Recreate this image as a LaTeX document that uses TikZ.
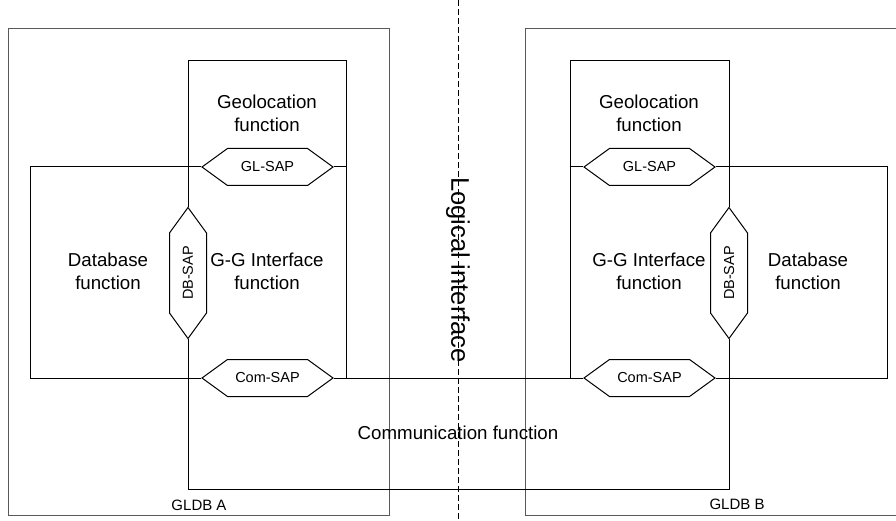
\documentclass[tikz,border=0pt]{standalone}
\usepackage{fontspec}
\setmainfont{Liberation Sans}
\usetikzlibrary{shapes.symbols}
\begin{document}
\begin{tikzpicture}[
    x=1pt, y=-1pt,
    every path/.style={line width=1pt},
    every node/.style={font=\fontsize{18.7}{23}\selectfont, align=center},
    sap/.style={draw, signal, signal to=east and west, signal pointer angle=72,
                minimum width=131pt, minimum height=37pt, inner sep=0pt,
                font=\fontsize{14.5}{16}\selectfont},
    frame/.style={draw=black!65},
    small/.style={font=\fontsize{15}{17}\selectfont}
]
\useasboundingbox (0,0) rectangle (896,521);

% Logical interface
\draw[dash pattern=on 6pt off 3pt] (458,0) -- (458,521);
\node[rotate=-90, font=\fontsize{25.5}{28}\selectfont] (logif) at (458,270) {Logical interface};

% GLDB A
\draw[frame] (8,29) rectangle (389,515);
\node[small] (gldbA) at (199,505) {GLDB A};
\node[sap] (glsapA) at (267.5,167) {GL-SAP};
\node[sap] (comsapA) at (267.5,378) {Com-SAP};
\node[sap, rotate=90] (dbsapA) at (188,273) {DB-SAP};
\node (geoA) at (267,113) {Geolocation\\function};
\node (dbA) at (108,271) {Database\\function};
\node (ggA) at (267,271) {G-G Interface\\function};
\draw (glsapA.west) -| (30,378) -- (comsapA.west);
\draw (glsapA.east) -- (346,167);
\draw (dbsapA.east) -- (188,61) -| (346,378);

% GLDB B
\draw[frame] (896,29) -| (525,515) -- (896,515);
\node[small] (gldbB) at (737,504) {GLDB B};
\node[sap] (glsapB) at (649.5,167) {GL-SAP};
\node[sap] (comsapB) at (649.5,378) {Com-SAP};
\node[sap, rotate=90] (dbsapB) at (729,273) {DB-SAP};
\node (geoB) at (649,113) {Geolocation\\function};
\node (ggB) at (649,271) {G-G Interface\\function};
\node (dbB) at (808,271) {Database\\function};
\draw (glsapB.west) -- (570,167);
\draw (glsapB.east) -| (887,378) -- (comsapB.east);
\draw (dbsapB.east) -- (729,61) -| (570,378);

% Communication function
\node (comm) at (458,433) {Communication function};
\draw (comsapA.east) -- (comsapB.west);
\draw (dbsapA.west) -- (188,489) -| (dbsapB.west);
\end{tikzpicture}
\end{document}
